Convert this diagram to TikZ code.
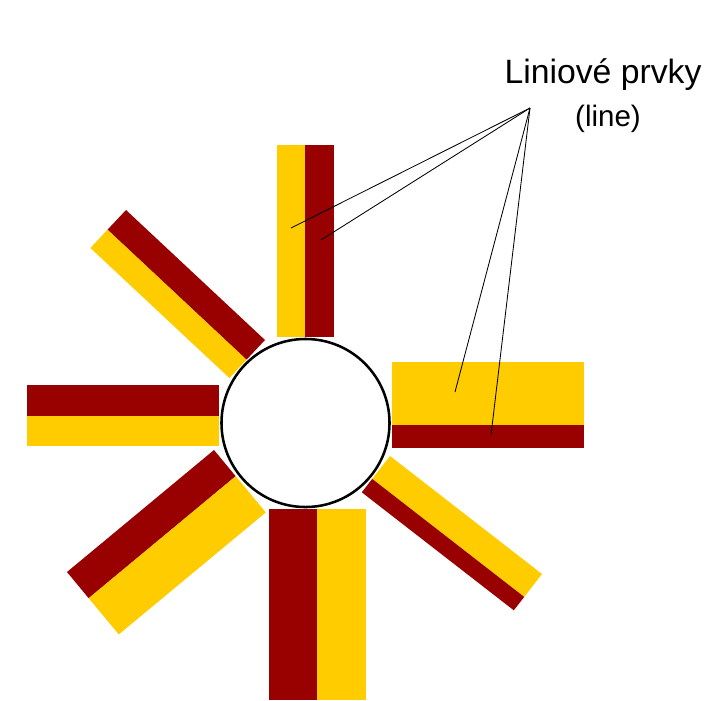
\documentclass[tikz,border=0pt]{standalone}
\usepackage{fontspec}
\setmainfont{Liberation Sans}
\usepackage{tikz}
\usetikzlibrary{calc}
\definecolor{barred}{HTML}{990000}
\definecolor{baryel}{HTML}{FFCC00}
\tikzset{rd/.style={fill=barred},yl/.style={fill=baryel},lead/.style={line width=.6pt}}

\begin{document}
\begin{tikzpicture}[x=.025cm,y=-.025cm]
\useasboundingbox(0,0)rectangle(712,700);
\fill[yl](277,145)rectangle(305,337);\fill[rd](305,145)rectangle(334,337);
\fill[yl](392,362)rectangle(584,425);\fill[rd](392,425)rectangle(584,448);
\fill[rd](27,385)rectangle(219,416);\fill[yl](27,416)rectangle(219,446);
\fill[rd](269,509)rectangle(317,700);\fill[yl](317,509)rectangle(366,700);
\fill[rd](126,210)--(265,340)--(246.5,359.7)--(107.5,229.7)--cycle;
\fill[yl](107.5,229.7)--(246.5,359.7)--(229.4,378)--(90.4,248)--cycle;
\fill[rd](214,450)--(67,572)--(88.7,598.2)--(235.7,476.2)--cycle;
\fill[yl](235.7,476.2)--(88.7,598.2)--(118.8,634.4)--(265.8,512.4)--cycle;
\fill[yl](390,456)--(542,574)--(524.2,596.9)--(372.2,478.9)--cycle;
\fill[rd](372.2,478.9)--(524.2,596.9)--(513.8,610.3)--(361.8,492.3)--cycle;
\node[circle,draw,fill=white,line width=1.8pt,minimum size=4.2cm,inner sep=0](hub)at(305.5,423){};
\node[anchor=base,font=\fontsize{24}{28}\selectfont](title)at(603,83){Liniové prvky};
\node[anchor=base,font=\fontsize{21}{25}\selectfont](sub)at(608,126){(line)};
\coordinate(apex)at(530,108);
\coordinate(ty)at(291,228);\coordinate(tr)at(321,240);\coordinate(ry)at(455,392);\coordinate(rr)at(491,435);
\foreach\e in{ty,tr,ry,rr}\draw[lead](apex)--(\e);
\end{tikzpicture}
\end{document}
